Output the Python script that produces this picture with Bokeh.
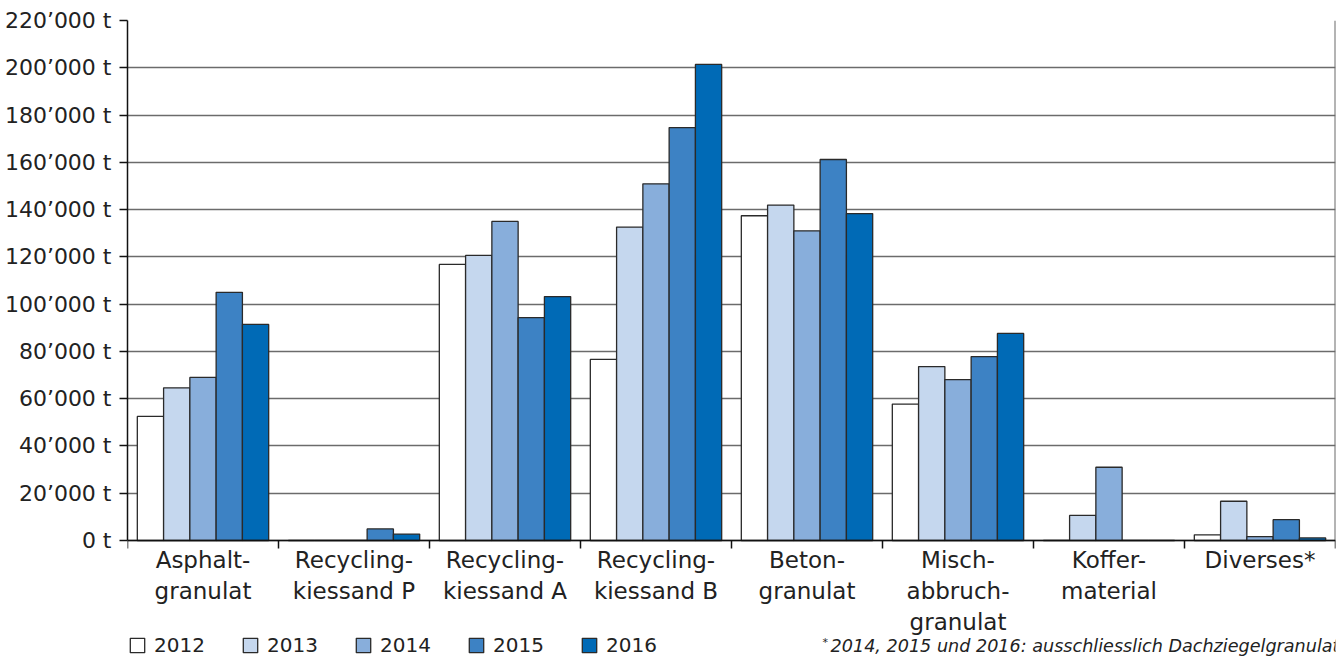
from bokeh.plotting import figure
from bokeh.models import Range1d, FixedTicker, ColumnDataSource, Legend, LegendItem, Label
from bokeh.core.properties import value
from bokeh.transform import dodge
from bokeh.embed import file_html
from bokeh.resources import INLINE

categories = ["Asphalt-\ngranulat", "Recycling-\nkiessand P", "Recycling-\nkiessand A",
              "Recycling-\nkiessand B", "Beton-\ngranulat", "Misch-\nabbruch-\ngranulat",
              "Koffer-\nmaterial", "Diverses*"]
years = ["2012", "2013", "2014", "2015", "2016"]
v2012 = [52500, 0, 116800, 76600, 137400, 57700, 0, 2400]
v2013 = [64600, 0, 120600, 132600, 141900, 73600, 10600, 16600]
v2014 = [69000, 0, 135000, 150900, 131000, 68100, 31000, 1600]
v2015 = [105000, 4900, 94300, 174700, 161200, 77800, 0, 8800]
v2016 = [91400, 2700, 103200, 201400, 138300, 87600, 0, 1100]
y_ticks = [0, 20000, 40000, 60000, 80000, 100000, 120000, 140000, 160000, 180000, 200000, 220000]
y_tick_labels = ["0 t", "20’000 t", "40’000 t", "60’000 t", "80’000 t", "100’000 t",
                 "120’000 t", "140’000 t", "160’000 t", "180’000 t", "200’000 t", "220’000 t"]
footnote = "2014, 2015 und 2016: ausschliesslich Dachziegelgranulat"

colors = ["#ffffff", "#c5d7ee", "#88aedb", "#3d82c4", "#006ab6"]
values = [v2012, v2013, v2014, v2015, v2016]

n = len(categories)
y_max = y_ticks[-1]
FRAME_H = 637          # px of the plot frame (axis area + label area below)
AXIS_H = 520           # px from 0 to the top tick
units_per_px = y_max / AXIS_H
y_min = -(FRAME_H - AXIS_H) * units_per_px

centers = [i + 0.5 for i in range(n)]
bounds = [float(i) for i in range(n + 1)]
data = {"x": centers}
for yr, v in zip(years, values):
    data[yr] = v
src = ColumnDataSource(data)

FONT = "DejaVu Sans"
TXT = "#222222"
DARK = "#111111"

p = figure(width=1336, height=657, x_range=Range1d(0, n), y_range=Range1d(y_min, y_max),
           output_backend="svg", toolbar_location=None, x_axis_location=None,
           min_border_left=127, min_border_right=1, min_border_top=20, min_border_bottom=0)
p.background_fill_color = "white"
p.border_fill_color = "white"
p.outline_line_color = None

bw = 0.174
items = []
for k, yr in enumerate(years):
    r = p.vbar(x=dodge("x", (k - 2) * bw, range=p.x_range), top=yr, width=bw, source=src,
               fill_color=colors[k], line_color="#2a2a2a", line_width=1.3)
    items.append(LegendItem(label=yr, renderers=[r]))

# y axis
yt = FixedTicker(ticks=y_ticks)
p.yaxis.ticker = yt
p.yaxis.bounds = (0, y_max)
p.ygrid.ticker = yt
p.ygrid.bounds = (0, y_max)
p.yaxis.major_label_overrides = {t: l for t, l in zip(y_ticks, y_tick_labels)}
p.yaxis.minor_tick_line_color = None
p.yaxis.major_tick_out = 8
p.yaxis.major_tick_in = 0
p.yaxis.major_tick_line_color = DARK
p.yaxis.major_tick_line_width = 1.5
p.yaxis.axis_line_color = DARK
p.yaxis.axis_line_width = 1.5
p.yaxis.major_label_standoff = 8
p.yaxis.major_label_text_font = FONT
p.yaxis.major_label_text_font_size = "22px"
p.yaxis.major_label_text_color = TXT

p.ygrid.grid_line_color = "#6b6b6b"
p.ygrid.grid_line_width = 1.5
p.xgrid.visible = False

# right border of the plot area
p.segment(x0=[bounds[-1]], x1=[bounds[-1]], y0=[0], y1=[y_max], line_color="#6b6b6b", line_width=2)
# category axis line at zero and ticks at category boundaries
p.segment(x0=[bounds[0]], x1=[bounds[-1]], y0=[0], y1=[0], line_color=DARK, line_width=1.5)
tick_len = 8 * units_per_px
p.segment(x0=bounds, x1=bounds, y0=[0] * len(bounds), y1=[-tick_len] * len(bounds),
          line_color=DARK, line_width=1.5)
# category labels
p.text(x=centers, y=[-6 * units_per_px] * n, text=categories, text_align="center",
       text_baseline="top", text_font=value(FONT), text_font_size="23px",
       text_color=TXT, text_line_height=1.2)

legend = Legend(items=items, orientation="horizontal", location=(1, 0),
                glyph_width=18, glyph_height=18, label_standoff=8, spacing=27, label_width=60,
                label_text_font=FONT, label_text_font_size="20px", label_text_color=TXT,
                padding=0, margin=0, border_line_color=None, background_fill_alpha=0)
p.add_layout(legend)

p.add_layout(Label(x=4.603, y=-108 * units_per_px, text="*", text_font=FONT,
                   text_font_style="italic", text_font_size="11px", text_color=TXT))
p.add_layout(Label(x=4.656, y=-115 * units_per_px, text=footnote, text_font=FONT,
                   text_font_style="italic", text_font_size="17.6px", text_color=TXT))

open("out.html", "w").write(file_html(p, INLINE))
